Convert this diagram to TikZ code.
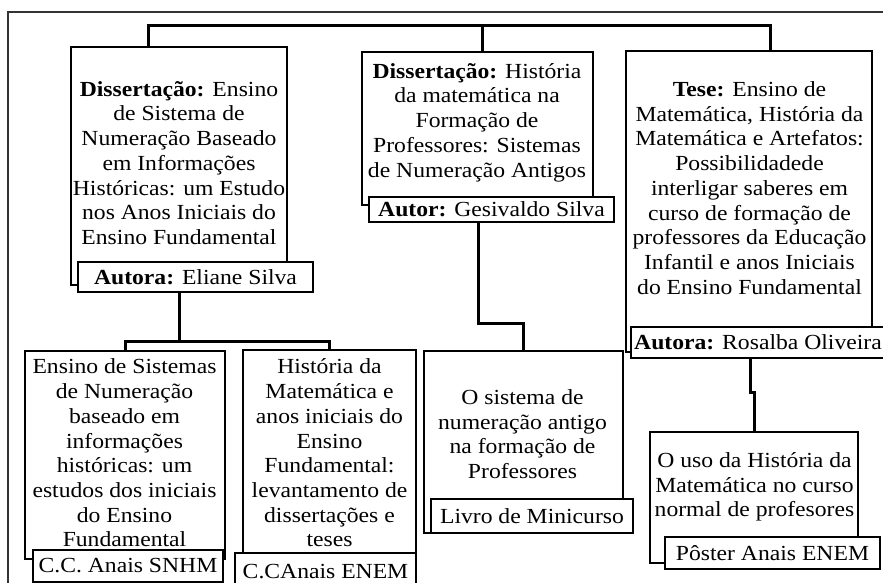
\documentclass[tikz,border=0pt]{standalone}
\usepackage{fontspec}
\setmainfont{Liberation Serif}[FakeStretch=1.1]
\usetikzlibrary{calc}
\tikzset{
  boxnode/.style={draw=black, line width=2pt, fill=white, inner sep=0pt, outer sep=0pt},
  authnode/.style={draw=black, line width=2pt, fill=white, inner sep=0pt, outer sep=0pt,
    font=\fontsize{21.5}{24.7}\selectfont},
  txt/.style={align=center, inner sep=0pt, font=\fontsize{21.5}{24.7}\selectfont},
  conn/.style={draw=black, line width=3pt, line join=miter},
  frameline/.style={draw=black!80, line width=1.2pt}
}
\begin{document}
\begin{tikzpicture}[x=1pt,y=-1pt]
\useasboundingbox (0,0) rectangle (883,583);
\clip (0,0) rectangle (883,583);
\fill[white] (0,0) rectangle (883,583);
% outer frame
\coordinate (fA) at (8,600);
\coordinate (fB) at (8,12);
\coordinate (fC) at (890,12);
\draw[frameline] (fA) -- (fB) -- (fC);

% junction coordinates
\coordinate (j0a) at (148,26);
\coordinate (j0m) at (482,26);
\coordinate (j0b) at (770,26);
\coordinate (j1) at (179,341);
\coordinate (j2) at (478,323);
\coordinate (j3) at (750,392);

% main boxes
\node[boxnode, minimum width=216pt, minimum height=238pt] (b1) at (179,166) {};
\node[boxnode, minimum width=231pt, minimum height=153pt] (b2) at (477.5,128.5) {};
\node[boxnode, minimum width=246pt, minimum height=301pt] (b3) at (749,201.5) {};
\node[boxnode, minimum width=200pt, minimum height=208pt] (c1) at (125,455) {};
\node[boxnode, minimum width=173pt, minimum height=203pt] (c2) at (329.5,451.5) {};
\node[boxnode, minimum width=199pt, minimum height=182pt] (c3) at (523.5,442) {};
\node[boxnode, minimum width=208pt, minimum height=131pt] (c4) at (754,497.5) {};

% texts
\node[txt] (t1) at (179,163) {\textbf{Dissertação:} Ensino\\de Sistema de\\Numeração Baseado\\em Informações\\Históricas: um Estudo\\nos Anos Iniciais do\\Ensino Fundamental};
\node[txt] (t2) at (477,122.5) {\textbf{Dissertação:} História\\da matemática na\\Formação de\\Professores: Sistemas\\de Numeração Antigos};
\node[txt] (t3) at (749.5,188) {\textbf{Tese:} Ensino de\\Matemática, História da\\Matemática e Artefatos:\\Possibilidadede\\interligar saberes em\\curso de formação de\\professores da Educação\\Infantil e anos Iniciais\\do Ensino Fundamental};
\node[txt] (tc1) at (124.5,453) {Ensino de Sistemas\\de Numeração\\baseado em\\informações\\históricas: um\\estudos dos iniciais\\do Ensino\\Fundamental};
\node[txt] (tc2) at (329.5,453) {História da\\Matemática e\\anos iniciais do\\Ensino\\Fundamental:\\levantamento de\\dissertações e\\teses};
\node[txt] (tc3) at (522.5,434) {O sistema de\\numeração antigo\\na formação de\\Professores};
\node[txt] (tc4) at (754.5,487) {O uso da História da\\Matemática no curso\\normal de profesores};

% author / source boxes
\node[authnode, minimum width=235pt, minimum height=30pt] (a1) at (195.5,277) {\textbf{Autora:} Eliane Silva};
\node[authnode, minimum width=245pt, minimum height=25pt] (a2) at (491.5,209.5) {\textbf{Autor:} Gesivaldo Silva};
\node[authnode, minimum width=254pt, minimum height=31pt] (a3) at (758,342.5) {\textbf{Autora:} Rosalba Oliveira};
\node[authnode, minimum width=190pt, minimum height=32pt] (ac1) at (128,566) {C.C. Anais SNHM};
\node[authnode, minimum width=181pt, minimum height=37pt] (ac2) at (325.5,571.5) {C.CAnais ENEM};
\node[authnode, minimum width=202pt, minimum height=34pt] (ac3) at (532,516) {Livro de Minicurso};
\node[authnode, minimum width=215pt, minimum height=32pt] (ac4) at (772.5,553) {Pôster Anais ENEM};

% connectors
\draw[conn] (b1.north -| j0a) -- (j0a) -- (j0b) -- (b3.north -| j0b);
\draw[conn] (j0m) -- (b2.north -| j0m);
\draw[conn] (a1.south -| j1) -- (j1);
\draw[conn] (c1.north) -- (c1.north |- j1) -- (c2.north |- j1) -- (c2.north);
\draw[conn] (a2.south -| j2) -- (j2) -- (j2 -| c3.north) -- (c3.north);
\draw[conn] (a3.south -| j3) -- (j3) -- (j3 -| c4.north) -- (c4.north);
\end{tikzpicture}
\end{document}
